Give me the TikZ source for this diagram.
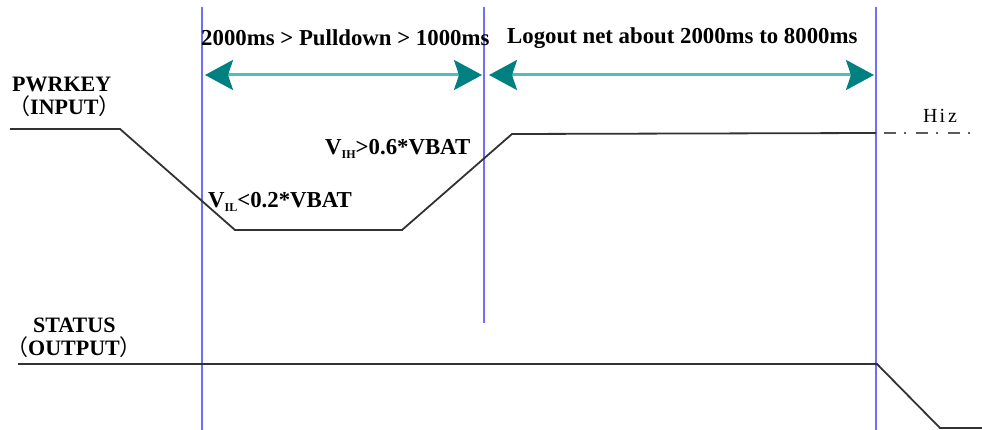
\documentclass[tikz,border=0pt]{standalone}
\usepackage{fontspec}
\setmainfont{Liberation Serif}
\newfontfamily\cjk{Noto Sans CJK SC}
\usetikzlibrary{arrows.meta}
\definecolor{guide}{RGB}{110,110,250}
\definecolor{tealarr}{RGB}{0,128,128}
\definecolor{tealline}{RGB}{80,190,190}
\definecolor{sig}{RGB}{50,50,50}
\tikzset{
  guideline/.style={draw=guide, line width=2.4pt},
  span/.style={draw=tealline, line width=3pt, {Stealth[length=28pt,width=30pt,inset=5pt,color=tealarr]}-{Stealth[length=28pt,width=30pt,inset=5pt,color=tealarr]}},
  signal/.style={draw=sig, line width=1.8pt},
  hiz/.style={draw=sig!80, line width=1.8pt, dash pattern=on 12pt off 8pt on 2pt off 10pt},
  lbl/.style={font=\bfseries\fontsize{22}{24}\selectfont, inner sep=0pt},
  ttl/.style={font=\bfseries\fontsize{22.8}{24}\selectfont, inner sep=0pt},
}
\newcommand{\subtxt}[1]{\raisebox{-4pt}{\fontsize{12}{12}\selectfont #1}}
\begin{document}
\begin{tikzpicture}[x=1pt,y=-1pt]
\useasboundingbox (0,0) rectangle (982,430);
% guide lines
\coordinate (g1t) at (202,7); \coordinate (g1b) at (202,430);
\coordinate (g2t) at (484,7); \coordinate (g2b) at (484,323);
\coordinate (g3t) at (876,7); \coordinate (g3b) at (876,430);
\draw[guideline] (g1t) -- (g1b);
\draw[guideline] (g2t) -- (g2b);
\draw[guideline] (g3t) -- (g3b);
% spans
\coordinate (a1l) at (205,75); \coordinate (a1r) at (482,75);
\coordinate (a2l) at (489,75); \coordinate (a2r) at (874,75);
\draw[span] (a1l) -- (a1r);
\draw[span] (a2l) -- (a2r);
\node[ttl, anchor=base west] (t1) at (201,46) {2000ms > Pulldown > 1000ms};
\node[ttl, anchor=base west] (t2) at (507,44) {Logout net about 2000ms to 8000ms};
% PWRKEY
\node[lbl, anchor=base west] (pk) at (12,92) {PWRKEY};
\node[lbl, anchor=base west] (pki) at (8,115) {{\cjk\mdseries （}INPUT{\cjk\mdseries ）}};
\coordinate (p0) at (10,129); \coordinate (p1) at (120,129);
\coordinate (p2) at (235,230); \coordinate (p3) at (402,230);
\coordinate (p4) at (512,134); \coordinate (p5) at (876,133);
\coordinate (p6) at (974,133);
\draw[signal] (p0) -- (p1) -- (p2) -- (p3) -- (p4) -- (p5);
\draw[hiz] ([xshift=8pt]p5) -- (p6);
\node[inner sep=0pt, anchor=base west, font=\fontsize{20}{20}\selectfont] (hz) at (923,123) {H\kern2pt i\kern3pt z};
\node[ttl, anchor=base west] (vih) at (325,155) {V\subtxt{IH}>0.6*VBAT};
\node[ttl, anchor=base west] (vil) at (208,208) {V\subtxt{IL}<0.2*VBAT};
% STATUS
\node[lbl, anchor=base west] (st) at (33,332) {STATUS};
\node[lbl, anchor=base west] (sto) at (6,355) {{\cjk\mdseries （}OUTPUT{\cjk\mdseries ）}};
\coordinate (s0) at (18,364); \coordinate (s1) at (877,364);
\coordinate (s2) at (940,428); \coordinate (s3) at (982,428);
\draw[signal] (s0) -- (s1) -- (s2) -- (s3);
\end{tikzpicture}
\end{document}
